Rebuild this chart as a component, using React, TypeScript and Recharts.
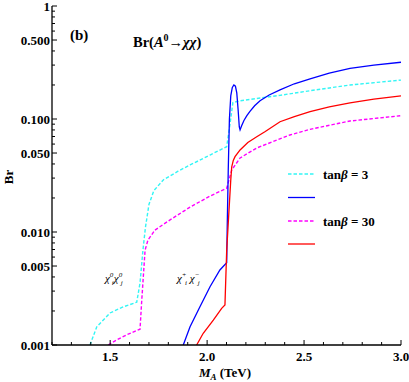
import React from 'react';
import { LineChart, Line, XAxis, YAxis } from 'recharts';

// [M_A (TeV), Br]
const tan3Neutralino: [number, number][] = [
  [1.396, 0.001], [1.431, 0.00145], [1.499, 0.00192], [1.566, 0.00217], [1.637, 0.00239],
  [1.654, 0.00354], [1.669, 0.0069], [1.682, 0.011], [1.7, 0.0175], [1.725, 0.0232],
  [1.775, 0.029], [1.85, 0.0345], [1.912, 0.0392], [2.015, 0.048], [2.101, 0.0569],
  [2.118, 0.09], [2.133, 0.14], [2.17, 0.145], [2.256, 0.152], [2.376, 0.162],
  [2.531, 0.178], [2.737, 0.2], [3.0, 0.221],
];
const tan3Chargino: [number, number][] = [
  [1.877, 0.001], [1.912, 0.00145], [1.963, 0.00218], [2.015, 0.00328], [2.066, 0.00461],
  [2.101, 0.00535], [2.104, 0.012], [2.109, 0.035], [2.115, 0.1], [2.122, 0.16],
  [2.13, 0.19], [2.138, 0.2], [2.146, 0.195], [2.153, 0.17], [2.16, 0.12], [2.166, 0.085],
  [2.17, 0.08], [2.178, 0.087], [2.19, 0.097], [2.205, 0.107], [2.221, 0.117],
  [2.245, 0.131], [2.273, 0.145], [2.32, 0.163], [2.376, 0.181], [2.45, 0.205],
  [2.531, 0.226], [2.63, 0.255], [2.737, 0.28], [2.86, 0.3], [3.0, 0.318],
];
const tan30Neutralino: [number, number][] = [
  [1.49, 0.001], [1.534, 0.00111], [1.585, 0.00123], [1.654, 0.00138], [1.663, 0.0025],
  [1.68, 0.0069], [1.695, 0.0085], [1.731, 0.0104], [1.809, 0.0128], [1.912, 0.0166],
  [2.015, 0.0208], [2.101, 0.0244], [2.127, 0.0354], [2.17, 0.0452], [2.256, 0.0554],
  [2.427, 0.0722], [2.531, 0.081], [2.737, 0.096], [3.0, 0.107],
];
const tan30Chargino: [number, number][] = [
  [1.946, 0.001], [1.98, 0.00127], [2.032, 0.00166], [2.075, 0.00211], [2.092, 0.00226],
  [2.101, 0.0069], [2.113, 0.0157], [2.122, 0.0289], [2.127, 0.0378], [2.135, 0.043],
  [2.144, 0.0464], [2.17, 0.0532], [2.21, 0.062], [2.256, 0.0697], [2.3, 0.0776],
  [2.376, 0.0946], [2.45, 0.105], [2.531, 0.116], [2.63, 0.128], [2.737, 0.139],
  [2.86, 0.15], [3.0, 0.16],
];

const xTicks = [1.2, 1.3, 1.4, 1.5, 1.6, 1.7, 1.8, 1.9, 2.0, 2.1, 2.2, 2.3, 2.4, 2.5, 2.6, 2.7, 2.8, 2.9, 3.0];
const xTickLabels: { v: number; label: string }[] = [
  { v: 1.5, label: '1.5' }, { v: 2.0, label: '2.0' }, { v: 2.5, label: '2.5' }, { v: 3.0, label: '3.0' },
];
const yTicks = [
  0.001, 0.002, 0.003, 0.004, 0.005, 0.006, 0.007, 0.008, 0.009,
  0.01, 0.02, 0.03, 0.04, 0.05, 0.06, 0.07, 0.08, 0.09,
  0.1, 0.2, 0.3, 0.4, 0.5, 0.6, 0.7, 0.8, 0.9, 1,
];
const yTickLabels: { v: number; label: string }[] = [
  { v: 0.001, label: '0.001' }, { v: 0.005, label: '0.005' }, { v: 0.01, label: '0.010' },
  { v: 0.05, label: '0.050' }, { v: 0.1, label: '0.100' }, { v: 0.5, label: '0.500' }, { v: 1, label: '1' },
];

const toRows = (pts: [number, number][]) => pts.map(([x, y]) => ({ x, y }));

const FONT = "'Liberation Serif', 'Times New Roman', serif";
const txt = { fontFamily: FONT };
const findLabel = (list: { v: number; label: string }[], v: number) => {
  const f = list.find((e) => Math.abs(e.v - v) / e.v < 1e-6);
  return f ? f.label : null;
};

const BottomTick = (props: any) => {
  const { x, y, payload } = props;
  const label = findLabel(xTickLabels, payload.value);
  const len = label ? 5 : 3;
  return (
    <g>
      <line x1={x} y1={y} x2={x} y2={y - len} stroke="#000" strokeWidth={1} />
      {label && (
        <text x={x} y={y + 16} textAnchor="middle" style={txt} fontWeight="bold" fontSize={13} fill="#000">
          {label}
        </text>
      )}
    </g>
  );
};
const TopTick = (props: any) => {
  const { x, y, payload } = props;
  const label = findLabel(xTickLabels, payload.value);
  const len = label ? 5 : 3;
  return <line x1={x} y1={y} x2={x} y2={y + len} stroke="#000" strokeWidth={1} />;
};
const LeftTick = (props: any) => {
  const { x, y, payload } = props;
  const label = findLabel(yTickLabels, payload.value);
  const len = label ? 5 : 3;
  return (
    <g>
      <line x1={x} y1={y} x2={x + len} y2={y} stroke="#000" strokeWidth={1} />
      {label && (
        <text x={x - 2} y={y + 4.5} textAnchor="end" style={txt} fontWeight="bold" fontSize={13} fill="#000">
          {label}
        </text>
      )}
    </g>
  );
};
const RightTick = (props: any) => {
  const { x, y, payload } = props;
  const label = findLabel(yTickLabels, payload.value);
  const len = label ? 5 : 3;
  return <line x1={x} y1={y} x2={x - len} y2={y} stroke="#000" strokeWidth={1} />;
};

const axisLine = { stroke: '#000', strokeWidth: 1.3 };

export default function App() {
  return (
    <div style={{ position: 'absolute', left: 0, top: 0, width: 409, height: 382, background: '#fff' }}>
      <LineChart width={409} height={382} margin={{ top: 6, right: 8, bottom: 0, left: 8 }}>
        <XAxis
          xAxisId="bottom"
          type="number"
          dataKey="x"
          domain={[1.2, 3.0]}
          ticks={xTicks}
          interval={0}
          tickSize={0}
          tickMargin={0}
          tickLine={false}
          axisLine={axisLine}
          height={37}
          tick={<BottomTick />}
          allowDataOverflow
        />
        <XAxis
          xAxisId="top"
          orientation="top"
          type="number"
          dataKey="x"
          domain={[1.2, 3.0]}
          ticks={xTicks}
          interval={0}
          tickSize={0}
          tickMargin={0}
          tickLine={false}
          axisLine={axisLine}
          height={0}
          tick={<TopTick />}
          allowDataOverflow
        />
        <YAxis
          yAxisId="left"
          type="number"
          scale="log"
          domain={[0.001, 1]}
          ticks={yTicks}
          interval={0}
          tickSize={0}
          tickMargin={0}
          tickLine={false}
          axisLine={axisLine}
          width={44}
          tick={<LeftTick />}
          allowDataOverflow
        />
        <YAxis
          yAxisId="right"
          orientation="right"
          type="number"
          scale="log"
          domain={[0.001, 1]}
          ticks={yTicks}
          interval={0}
          tickSize={0}
          tickMargin={0}
          tickLine={false}
          axisLine={axisLine}
          width={0}
          tick={<RightTick />}
          allowDataOverflow
        />
        <Line xAxisId="bottom" yAxisId="left" data={toRows(tan3Neutralino)} dataKey="y" type="linear"
          stroke="#33F5F5" strokeWidth={1.4} strokeDasharray="3.5 2" dot={false} isAnimationActive={false} />
        <Line xAxisId="bottom" yAxisId="left" data={toRows(tan30Neutralino)} dataKey="y" type="linear"
          stroke="#FF00FF" strokeWidth={1.4} strokeDasharray="3.5 2" dot={false} isAnimationActive={false} />
        <Line xAxisId="bottom" yAxisId="left" data={toRows(tan3Chargino)} dataKey="y" type="linear"
          stroke="#0000FF" strokeWidth={1.3} dot={false} isAnimationActive={false} />
        <Line xAxisId="bottom" yAxisId="left" data={toRows(tan30Chargino)} dataKey="y" type="linear"
          stroke="#FF0000" strokeWidth={1.3} dot={false} isAnimationActive={false} />
      </LineChart>
      <svg width={409} height={382} style={{ position: 'absolute', left: 0, top: 0, pointerEvents: 'none', fontFamily: FONT }}>
        <text x={70} y={40} fontWeight="bold" fontSize={15} style={txt}>(b)</text>
        <text x={133} y={47} fontWeight="bold" fontSize={14.5} style={txt}>
          Br(<tspan fontStyle="italic">A</tspan>
          <tspan fontSize={10} dy={-6}>0</tspan>
          <tspan dy={6}>→</tspan>
          <tspan fontStyle="italic">χχ</tspan>)
        </text>
        <text x={105} y={282} fontStyle="italic" fontSize={11} style={txt}>
          χ<tspan fontSize={7} dy={-5}>0</tspan>
          <tspan fontSize={7} dx={-1.5} dy={8}>i</tspan>
          <tspan dy={-3}>χ</tspan>
          <tspan fontSize={7} dy={-5}>0</tspan>
          <tspan fontSize={7} dx={-1.5} dy={8}>j</tspan>
        </text>
        <text x={177} y={282} fontStyle="italic" fontSize={11} style={txt}>
          χ<tspan fontSize={7} dy={-5}>+</tspan>
          <tspan fontSize={7} dx={-1.5} dy={8}>i</tspan>
          <tspan dy={-3}> χ</tspan>
          <tspan fontSize={7} dy={-5}>−</tspan>
          <tspan fontSize={7} dx={-1.5} dy={8}>j</tspan>
        </text>
        <line x1={288} y1={174} x2={315} y2={174} stroke="#33F5F5" strokeWidth={1.4} strokeDasharray="3.5 2" />
        <text x={323} y={179} fontWeight="bold" fontSize={13} style={txt}>tan<tspan fontStyle="italic">β</tspan> = 3</text>
        <line x1={288} y1={197.5} x2={315} y2={197.5} stroke="#0000FF" strokeWidth={1.3} />
        <line x1={288} y1={221} x2={315} y2={221} stroke="#FF00FF" strokeWidth={1.4} strokeDasharray="3.5 2" />
        <text x={323} y={226} fontWeight="bold" fontSize={13} style={txt}>tan<tspan fontStyle="italic">β</tspan> = 30</text>
        <line x1={288} y1={244} x2={315} y2={244} stroke="#FF0000" strokeWidth={1.3} />
        <text x={13} y={177} fontWeight="bold" fontSize={13} textAnchor="middle" transform="rotate(-90 13 177)" style={txt}>Br</text>
        <text x={225} y={377} fontWeight="bold" fontSize={13} textAnchor="middle" style={txt}>
          <tspan fontStyle="italic">M</tspan>
          <tspan fontStyle="italic" fontSize={9} dy={3}>A</tspan>
          <tspan dy={-3}> (TeV)</tspan>
        </text>
      </svg>
    </div>
  );
}
